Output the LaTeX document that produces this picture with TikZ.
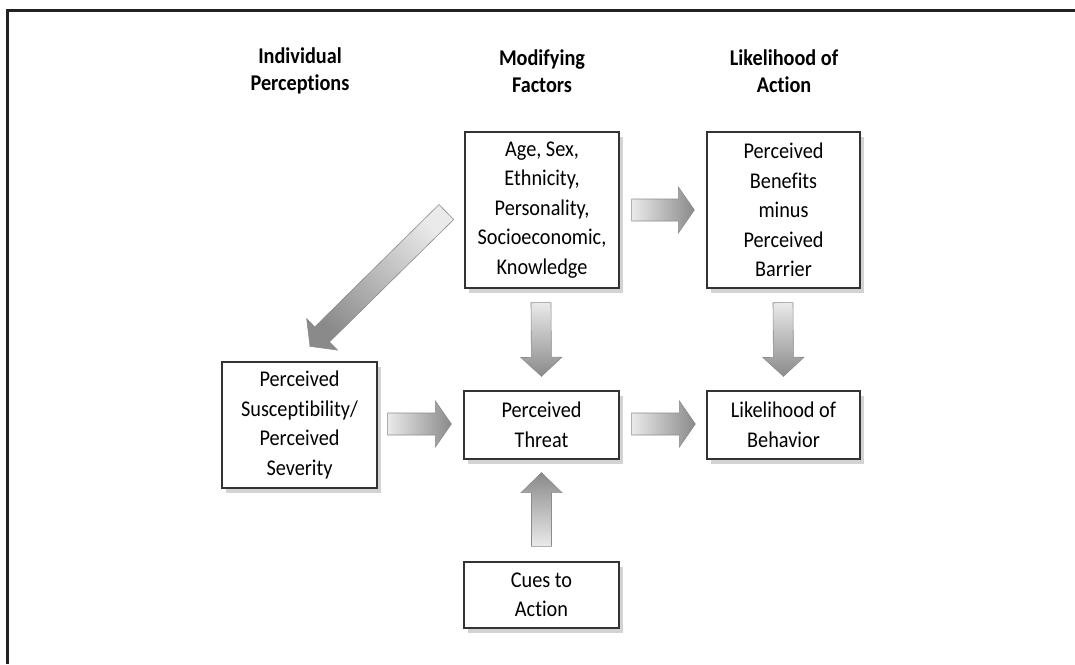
\documentclass[tikz,border=0pt]{standalone}
\usepackage{fontspec}
\setmainfont[Ligatures=NoCommon, FakeStretch=0.9]{Carlito}
\usetikzlibrary{calc,shadows}
\definecolor{boxline}{HTML}{333333}
\definecolor{shadowgray}{HTML}{D2D3D5}
\definecolor{arrlight}{HTML}{EAEAEA}
\definecolor{arrdark}{HTML}{8A8A8A}
\definecolor{arredge}{HTML}{8C8C8C}
\definecolor{framecol}{HTML}{222222}
\tikzset{
  hmbox/.style={draw=boxline, line width=1.3pt, fill=white, align=center,
    inner sep=0pt, font=\fontsize{22.5}{29.5}\selectfont,
    drop shadow={shadow xshift=4pt, shadow yshift=-5pt, fill=shadowgray, opacity=1}},
  hmhead/.style={align=center, font=\fontsize{22.5}{27.5}\selectfont\bfseries},
  blockarr/.style={draw=arredge, line width=0.6pt},
}
% #1 options, #2 tail, #3 tip, #4 head length, #5 shaft half width, #6 head half width
\newcommand\blockarrow[6][]{%
  \coordinate (hb) at ($(#3)!#4pt!(#2)$);
  \shade[blockarr,#1]
    ($(#2)!#5pt!90:(#3)$) -- ($(hb)!#5pt!90:(#3)$) -- ($(hb)!#6pt!90:(#3)$) --
    (#3) -- ($(hb)!#6pt!-90:(#3)$) -- ($(hb)!#5pt!-90:(#3)$) --
    ($(#2)!#5pt!-90:(#3)$) -- cycle;}
\begin{document}
\begin{tikzpicture}[x=1pt,y=-1pt]
\useasboundingbox (0,0) rectangle (1075,664);
% frame
\draw[framecol, line width=3pt] (7.5,664) -- (7.5,10.5) -- (1076,10.5);
% headers
\node[hmhead] (h1) at (300,71) {Individual\\Perceptions};
\node[hmhead] (h2) at (542,71) {Modifying\\Factors};
\node[hmhead] (h3) at (784,71) {Likelihood of\\Action};
% boxes
\node[hmbox, minimum width=154pt, minimum height=156pt] (mod) at (542,210)
  {Age, Sex,\\Ethnicity,\\Personality,\\Socioeconomic,\\Knowledge};
\node[hmbox, minimum width=153pt, minimum height=156pt] (ben) at (783.5,210)
  {Perceived\\Benefits\\minus\\Perceived\\Barrier};
\node[hmbox, minimum width=155pt, minimum height=126pt] (sus) at (299.5,425)
  {Perceived\\Susceptibility/\\Perceived\\Severity};
\node[hmbox, minimum width=155pt, minimum height=68pt] (thr) at (541.5,425)
  {Perceived\\Threat};
\node[hmbox, minimum width=153pt, minimum height=68pt] (beh) at (783.5,425)
  {Likelihood of\\Behavior};
\node[hmbox, minimum width=155pt, minimum height=66pt] (cue) at (541.5,595)
  {Cues to\\Action};
% arrow end points
\coordinate (a1t) at ($(mod.east)+(12,0)$);
\coordinate (a1p) at ($(ben.west)+(-12,0)$);
\coordinate (a2t) at ($(sus.east)+(10,-1)$);
\coordinate (a2p) at ($(thr.west)+(-12,-1)$);
\coordinate (a3t) at ($(thr.east)+(12,-1)$);
\coordinate (a3p) at ($(beh.west)+(-11,-1)$);
\coordinate (a4t) at ($(mod.south)+(-1,14)$);
\coordinate (a4p) at ($(thr.north)+(0,-14)$);
\coordinate (a5t) at ($(ben.south)+(-0.5,14)$);
\coordinate (a5p) at ($(beh.north)+(0,-14)$);
\coordinate (a6t) at ($(cue.north)+(0,-15)$);
\coordinate (a6p) at ($(thr.south)+(0,13)$);
\coordinate (a7t) at ($(mod.west)+(-18,2)$);
\coordinate (a7p) at ($(sus.north)+(10.5,-15)$);
% arrows
\blockarrow[left color=arrlight, right color=arrdark]{a1t}{a1p}{16}{11}{23}
\blockarrow[left color=arrlight, right color=arrdark]{a2t}{a2p}{16}{11}{23}
\blockarrow[left color=arrlight, right color=arrdark]{a3t}{a3p}{16}{11}{23}
\blockarrow[top color=arrlight, bottom color=arrdark]{a4t}{a4p}{19}{10}{20.5}
\blockarrow[top color=arrlight, bottom color=arrdark]{a5t}{a5p}{19}{10}{20.5}
\blockarrow[bottom color=arrlight, top color=arrdark]{a6t}{a6p}{20}{10}{20.5}
\blockarrow[top color=arrlight, bottom color=arrdark, shading angle=-45]{a7t}{a7p}{17}{10.5}{22}
\end{tikzpicture}
\end{document}
